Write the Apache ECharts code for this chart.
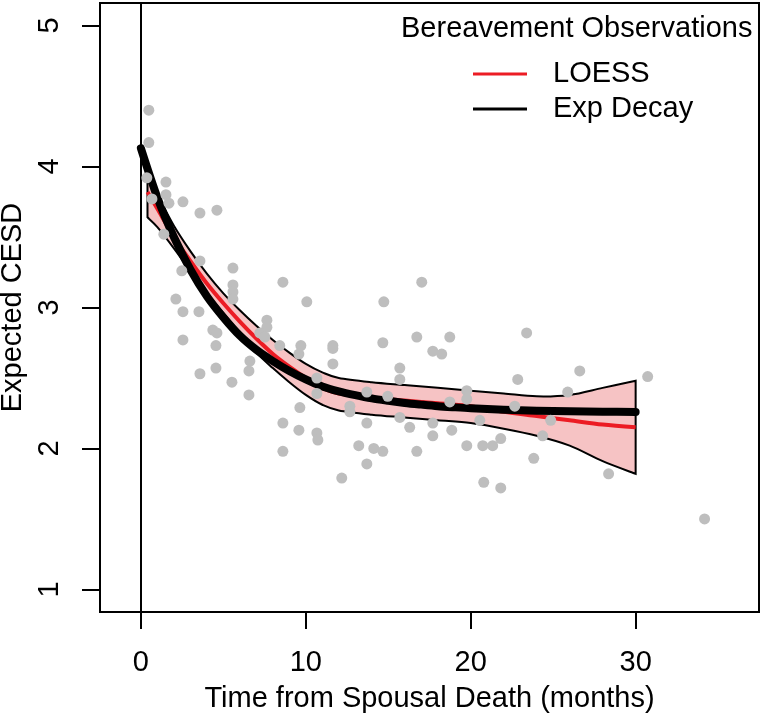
<!DOCTYPE html>
<html>
<head>
<meta charset="utf-8">
<script src="https://cdn.jsdelivr.net/npm/echarts@6/dist/echarts.min.js"></script>
<style>
html,body{margin:0;padding:0;background:#fff;}
#chart{width:764px;height:717px;}
</style>
</head>
<body>
<div id="chart"></div>
<script>
// ---- data ----
const xTicks = [0, 10, 20, 30];
const yTicks = [1, 2, 3, 4, 5];

const obsMonths = [0.48,0.48,0.36,1.52,1.52,2.55,3.58,4.61,0.67,1.70,1.39,3.58,2.48,5.58,5.58,5.58,5.58,8.61,2.12,2.55,
  3.52,4.36,4.61,4.55,2.55,3.58,4.55,5.52,6.55,6.55,6.61,7.64,7.64,7.21,7.52,8.42,8.61,8.61,10.06,9.70,
  9.58,11.64,11.64,11.64,10.67,10.67,9.64,9.58,10.67,10.73,12.18,12.67,12.67,13.21,13.70,13.70,13.70,14.12,14.67,14.73,
  14.67,14.97,15.70,15.70,15.70,16.30,16.73,16.73,17.03,17.70,18.24,17.70,17.70,18.73,18.73,18.85,19.76,19.76,19.76,20.55,
  20.73,21.33,21.82,20.79,21.82,22.67,22.85,23.39,23.82,24.36,24.85,25.88,26.61,28.36,30.73,34.18];
const obsCesd = [4.40,4.17,3.92,3.89,3.80,3.75,3.67,3.69,3.77,3.74,3.52,3.33,3.26,3.28,3.16,3.11,3.06,3.18,3.06,2.97,
  2.97,2.84,2.82,2.73,2.77,2.53,2.57,2.47,2.38,2.55,2.62,2.91,2.86,2.82,2.79,2.73,2.18,1.98,3.04,2.73,
  2.67,2.73,2.71,2.60,2.50,2.39,2.29,2.13,2.11,2.06,1.79,2.30,2.26,2.02,2.40,2.18,1.89,2.00,1.98,3.04,
  2.75,2.37,2.57,2.49,2.22,2.15,2.79,1.98,3.18,2.69,2.67,2.18,2.09,2.79,2.33,2.13,2.41,2.35,2.02,2.20,
  2.02,2.02,2.07,1.76,1.72,2.30,2.49,2.82,1.93,2.09,2.20,2.40,2.55,1.82,2.51,1.50];

const expMonths = [0,1,2,3,4,5,6,7,8,9,10,11,12,13,14,15,16,17,18,19,20,22,24,26,28,30];
const expValues = [4.13,3.78,3.50,3.27,3.08,2.93,2.80,2.70,2.62,2.55,2.49,2.44,2.405,2.378,2.355,2.338,2.323,2.311,2.300,2.292,2.285,2.275,2.268,2.264,2.261,2.259];

const loessMonths = [0.4,1,2,3,4,5,6,7,8,9,10,11,12,14,16,18,20,22,24,26,28,30];
const loessFit   = [3.82,3.70,3.50,3.33,3.17,3.03,2.90,2.78,2.67,2.58,2.50,2.43,2.39,2.36,2.34,2.32,2.30,2.26,2.23,2.20,2.17,2.15];
const loessLower = [3.64,3.57,3.42,3.26,3.10,2.96,2.82,2.68,2.57,2.47,2.38,2.31,2.27,2.24,2.22,2.20,2.18,2.14,2.09,2.02,1.91,1.82];
const loessUpper = [3.94,3.80,3.58,3.40,3.24,3.10,2.98,2.87,2.77,2.68,2.60,2.54,2.50,2.47,2.45,2.43,2.41,2.39,2.37,2.38,2.43,2.48];

// ---- chart ----
const FONT = 'Liberation Sans, Arial, Helvetica, sans-serif';
const FS = 29;
const zip = (a, b) => a.map((v, i) => [v, b[i]]);

// smooth path through pixel points (Catmull-Rom -> cubic Bezier), for drawing only
function curveThrough(pts) {
  let d = '';
  for (let i = 0; i < pts.length - 1; i++) {
    const p0 = pts[Math.max(i - 1, 0)], p1 = pts[i], p2 = pts[i + 1], p3 = pts[Math.min(i + 2, pts.length - 1)];
    const c1 = [p1[0] + (p2[0] - p0[0]) / 6, p1[1] + (p2[1] - p0[1]) / 6];
    const c2 = [p2[0] - (p3[0] - p1[0]) / 6, p2[1] - (p3[1] - p1[1]) / 6];
    d += ' C' + c1[0] + ',' + c1[1] + ' ' + c2[0] + ',' + c2[1] + ' ' + p2[0] + ',' + p2[1];
  }
  return d;
}

const chart = echarts.init(document.getElementById('chart'), null, {renderer: 'canvas'});
chart.setOption({
  animation: false,
  backgroundColor: '#fff',
  textStyle: {fontFamily: FONT},
  title: {
    text: 'Bereavement Observations', left: 401, top: 14, padding: 0,
    textStyle: {fontSize: FS, color: '#000', fontFamily: FONT, fontWeight: 'normal', lineHeight: 30}
  },
  grid: {left: 100, right: 5, top: 3, bottom: 105, containLabel: false, outerBoundsMode: 'none',
    show: true, borderColor: '#000', borderWidth: 2, backgroundColor: 'transparent'},
  xAxis: {
    type: 'value', min: -2.48, max: 37.48,
    name: 'Time from Spousal Death (months)', nameLocation: 'middle', nameGap: 73,
    nameTextStyle: {fontSize: FS, color: '#000', fontFamily: FONT, lineHeight: 28},
    axisLine: {show: false, onZero: false},
    splitLine: {show: false},
    axisTick: {show: true, inside: false, length: 17, lineStyle: {color: '#000', width: 2}, customValues: xTicks},
    axisLabel: {fontSize: FS, color: '#000', fontFamily: FONT, margin: 37, lineHeight: 28, customValues: xTicks}
  },
  yAxis: {
    type: 'value', min: 0.84, max: 5.16,
    name: 'Expected CESD', nameLocation: 'middle', nameGap: 71, nameRotate: 90,
    nameTextStyle: {fontSize: FS, color: '#000', fontFamily: FONT, lineHeight: 28},
    axisLine: {show: false, onZero: false},
    splitLine: {show: false},
    axisTick: {show: true, inside: false, length: 18, lineStyle: {color: '#000', width: 2}, customValues: yTicks},
    axisLabel: {fontSize: FS, color: '#000', fontFamily: FONT, margin: 36, rotate: 90, lineHeight: 28, customValues: yTicks}
  },
  legend: {
    data: ['LOESS', 'Exp Decay'],
    orient: 'vertical', left: 473, top: 59, itemGap: 5, padding: 0,
    icon: 'rect', itemWidth: 54, itemHeight: 3,
    selectedMode: false,
    textStyle: {fontSize: FS, color: '#000', fontFamily: FONT, lineHeight: 30, padding: [0, 0, 0, 21]}
  },
  series: [
    {
      name: 'LOESS band', type: 'custom', z: 2, silent: true,
      data: loessMonths.map((m, i) => [m, loessLower[i], loessUpper[i]]),
      encode: {x: 0, y: [1, 2]},
      renderItem: function (params, api) {
        if (params.dataIndex !== 0) return null;
        const up = loessMonths.map((m, i) => api.coord([m, loessUpper[i]]));
        const low = loessMonths.map((m, i) => api.coord([m, loessLower[i]])).reverse();
        const d = 'M' + up[0][0] + ',' + up[0][1] + curveThrough(up) +
          ' L' + low[0][0] + ',' + low[0][1] + curveThrough(low) + ' Z';
        return {
          type: 'path',
          shape: {pathData: d},
          style: {fill: '#f6c3c4', stroke: '#000', lineWidth: 2, lineJoin: 'miter'}
        };
      }
    },
    {
      name: 'LOESS', type: 'line', smooth: 0.3, symbol: 'none', z: 4,
      data: zip(loessMonths, loessFit),
      color: '#ec1c24',
      lineStyle: {color: '#ec1c24', width: 4},
      markLine: {
        silent: true, symbol: 'none', animation: false,
        label: {show: false},
        lineStyle: {color: '#000', width: 2, type: 'solid'},
        data: [{xAxis: 0}]
      }
    },
    {
      name: 'Exp Decay', type: 'line', smooth: 0.3, symbol: 'none', z: 5,
      data: zip(expMonths, expValues),
      color: '#000',
      lineStyle: {color: '#000', width: 8, cap: 'round', join: 'round'}
    },
    {
      name: 'Observations', type: 'scatter', symbol: 'circle', symbolSize: 11, z: 6,
      data: zip(obsMonths, obsCesd),
      itemStyle: {color: '#bebebe', opacity: 1}
    }
  ]
});
</script>
</body>
</html>
